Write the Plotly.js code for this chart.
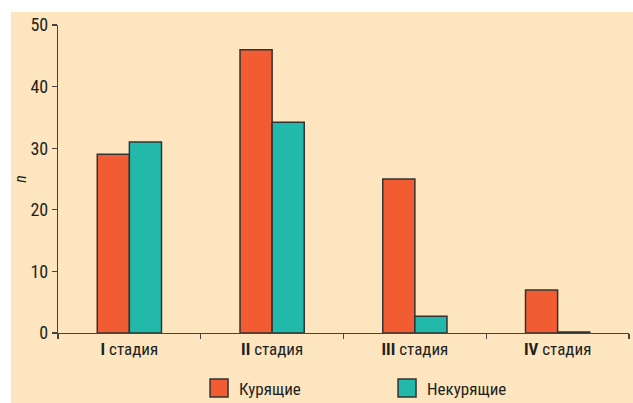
<!DOCTYPE html>
<html>
<head>
<meta charset="utf-8">
<script src="https://cdn.plot.ly/plotly-3.0.1.min.js"></script>
<style>
  html, body { margin: 0; padding: 0; background: #ffffff; }
  #chart { position: absolute; left: 11px; top: 12px; width: 622px; height: 391px; }
</style>
</head>
<body>
<div id="chart"></div>
<script>
const categories = ["I стадия", "II стадия", "III стадия", "IV стадия"];
const tickLabels = ["<b>I</b> стадия", "<b>II</b> стадия", "<b>III</b> стадия", "<b>IV</b> стадия"];
const smokers = [29, 46, 25, 7];
const nonSmokers = [31, 34.2, 2.7, 0.15];
const seriesNames = ["Курящие", "Некурящие"];

const font = "Liberation Sans Narrow, Roboto Condensed, Arial Narrow, sans-serif";
const outline = { color: "#333333", width: 1.5 };

const data = [
  { type: "bar", x: categories, y: smokers, name: seriesNames[0],
    marker: { color: "#F25C33", line: outline } },
  { type: "bar", x: categories, y: nonSmokers, name: seriesNames[1],
    marker: { color: "#22B9AA", line: outline } }
];

const layout = {
  width: 622, height: 391,
  paper_bgcolor: "#FDE5BF",
  plot_bgcolor: "#FDE5BF",
  margin: { l: 47, r: 4, t: 12.5, b: 70, autoexpand: false },
  barmode: "group",
  bargap: 0.55,
  bargroupgap: 0,
  font: { family: font, size: 16, color: "#231F20" },
  xaxis: {
    type: "category",
    tickvals: categories,
    ticktext: tickLabels,
    tickson: "boundaries",
    ticks: "outside", ticklen: 5, tickwidth: 1.2, tickcolor: "#444",
    showline: true, linecolor: "#444", linewidth: 1.2,
    showgrid: false, zeroline: false,
    tickfont: { family: font, size: 17, color: "#231F20" }
  },
  yaxis: {
    range: [0, 50],
    tickvals: [0, 10, 20, 30, 40, 50],
    ticks: "outside", ticklen: 5, tickwidth: 1.2, tickcolor: "#444",
    showline: true, linecolor: "#444", linewidth: 1.2,
    showgrid: false, zeroline: false,
    tickfont: { family: font, size: 18, color: "#231F20" },
    title: { text: "<i>n</i>", font: { family: font, size: 16, color: "#231F20" }, standoff: 14 }
  },
  showlegend: true,
  legend: {
    orientation: "h",
    x: 0.247, xanchor: "left",
    y: -0.18, yanchor: "middle",
    entrywidth: 143, entrywidthmode: "pixels",
    bgcolor: "rgba(0,0,0,0)",
    font: { family: font, size: 17, color: "#231F20" }
  }
};

Plotly.newPlot("chart", data, layout, { displayModeBar: false, staticPlot: true }).then(function (gd) {
  gd.querySelectorAll(".legend .legendpoints path").forEach(function (p) {
    p.setAttribute("d", "M9,9H-9V-9H9Z");
  });
});
</script>
</body>
</html>
